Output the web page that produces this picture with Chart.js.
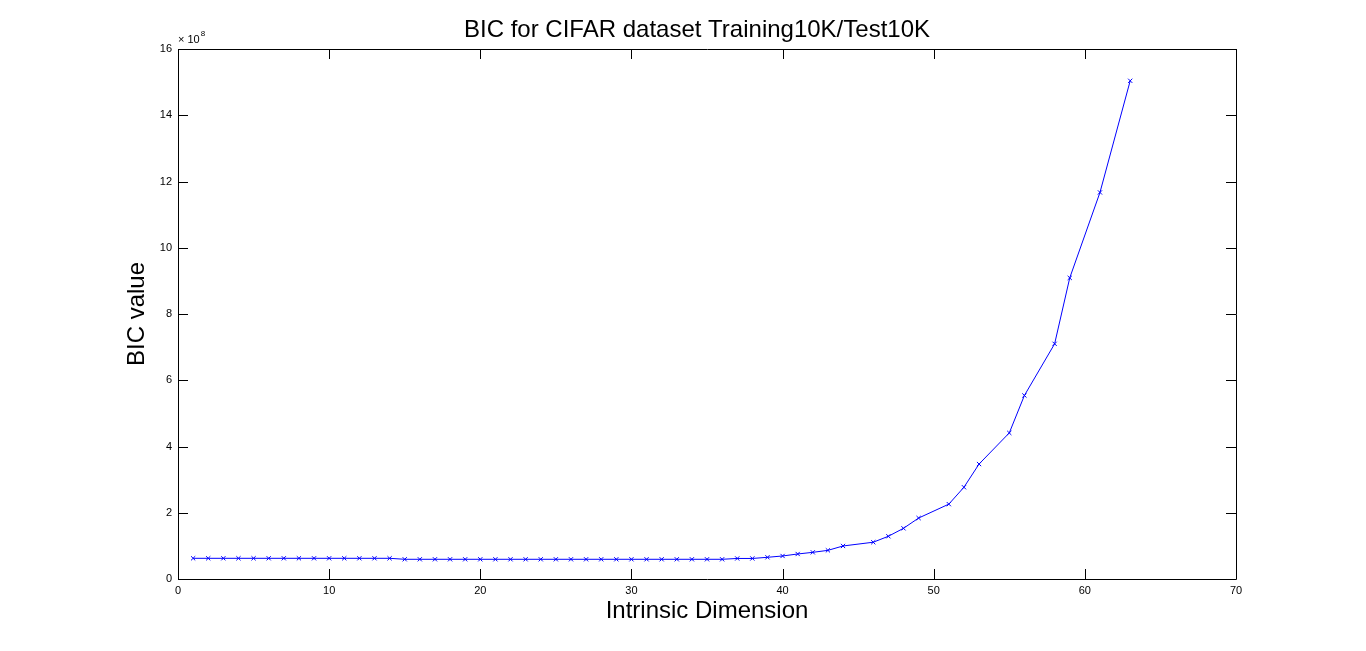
<!DOCTYPE html>
<html>
<head>
<meta charset="utf-8">
<script src="https://cdn.jsdelivr.net/npm/chart.js@4.4.0/dist/chart.umd.min.js"></script>
<style>
  html, body { margin: 0; padding: 0; background: #ffffff; }
  #wrap { width: 1366px; height: 651px; position: relative; }
</style>
</head>
<body>
<div id="wrap"><canvas id="c" width="1366" height="651"></canvas></div>
<script>
// ---- data ----
const chartTitle = 'BIC for CIFAR dataset Training10K/Test10K';
const xAxisLabel = 'Intrinsic Dimension';
const yAxisLabel = 'BIC value';
const yExponent = 8; // axis multiplier: x 10^8

const intrinsicDims = [
  1, 2, 3, 4, 5, 6, 7, 8, 9, 10, 11, 12, 13, 14,
  15, 16, 17, 18, 19, 20, 21, 22, 23, 24, 25, 26, 27, 28, 29, 30,
  31, 32, 33, 34, 35, 36, 37, 38, 39, 40, 41, 42, 43, 44,
  46, 47, 48, 49, 51, 52, 53, 55, 56, 58, 59, 61, 63
];
// BIC values in units of 10^8
const bicValues = [
  0.625, 0.625, 0.625, 0.625, 0.625, 0.625, 0.625, 0.625, 0.625, 0.625, 0.625, 0.625, 0.625, 0.625,
  0.595, 0.595, 0.595, 0.595, 0.595, 0.595, 0.595, 0.595, 0.595, 0.595, 0.595, 0.595, 0.595, 0.595, 0.595, 0.595,
  0.595, 0.595, 0.595, 0.595, 0.595, 0.595, 0.62, 0.62, 0.655, 0.695, 0.755, 0.805, 0.865, 0.997,
  1.11, 1.29, 1.53, 1.84, 2.26, 2.77, 3.47, 4.41, 5.54, 7.10, 9.09, 11.67, 15.04
];
const xTicks = [0, 10, 20, 30, 40, 50, 60, 70];
const yTicks = [0, 2, 4, 6, 8, 10, 12, 14, 16];

const points = intrinsicDims.map((d, i) => ({ x: d, y: bicValues[i] }));

const FONT = '"Liberation Sans", Arial, Helvetica, sans-serif';

const matlabBox = {
  id: 'matlabBox',
  afterDraw(chart) {
    const { ctx, chartArea: a, scales } = chart;
    const xs = scales.x, ys = scales.y;
    const tl = 10;
    ctx.save();
    ctx.strokeStyle = '#000';
    ctx.lineWidth = 1;
    ctx.beginPath();
    ctx.rect(Math.round(a.left) + 0.5, Math.round(a.top) + 0.5,
             Math.round(a.right - a.left), Math.round(a.bottom - a.top));
    xTicks.forEach(v => {
      const px = Math.round(xs.getPixelForValue(v)) + 0.5;
      ctx.moveTo(px, a.bottom); ctx.lineTo(px, a.bottom - tl);
      ctx.moveTo(px, a.top); ctx.lineTo(px, a.top + tl);
    });
    yTicks.forEach(v => {
      const py = Math.round(ys.getPixelForValue(v)) + 0.5;
      ctx.moveTo(a.left, py); ctx.lineTo(a.left + tl, py);
      ctx.moveTo(a.right, py); ctx.lineTo(a.right - tl, py);
    });
    ctx.stroke();
    // exponent label
    ctx.fillStyle = '#000';
    ctx.textBaseline = 'alphabetic';
    ctx.textAlign = 'left';
    ctx.font = '11px ' + FONT;
    ctx.fillText('\u00d7 10', a.left, a.top - 6);
    const w = ctx.measureText('\u00d7 10').width;
    ctx.font = '8px ' + FONT;
    ctx.fillText(String(yExponent), a.left + w + 1, a.top - 13);
    // title, centred over the axes
    ctx.font = '24px ' + FONT;
    ctx.textAlign = 'center';
    ctx.fillText(chartTitle, (a.left + a.right) / 2 - 10, a.top - 12);
    ctx.restore();
  }
};

new Chart(document.getElementById('c'), {
  type: 'line',
  data: {
    datasets: [{
      data: points,
      borderColor: '#0000ff',
      backgroundColor: '#0000ff',
      borderWidth: 1,
      pointStyle: 'crossRot',
      pointRadius: 3,
      pointBorderWidth: 1,
      pointBorderColor: '#0000ff',
      tension: 0,
      fill: false
    }]
  },
  plugins: [matlabBox],
  options: {
    responsive: false,
    animation: false,
    devicePixelRatio: 1,
    layout: { padding: { left: 0, right: 130, top: 49, bottom: 0 } },
    plugins: {
      legend: { display: false },
      tooltip: { enabled: false },
      title: { display: false }
    },
    scales: {
      x: {
        type: 'linear',
        min: 0, max: 70,
        afterBuildTicks: s => { s.ticks = xTicks.map(v => ({ value: v })); },
        afterFit: s => { s.height = 72; },
        ticks: { color: '#000', font: { family: FONT, size: 11 }, padding: 5, maxRotation: 0 },
        grid: { display: false, drawTicks: false },
        border: { display: false },
        title: {
          display: true, text: xAxisLabel, color: '#000',
          font: { family: FONT, size: 24 }, padding: { top: 0, bottom: 25 }
        }
      },
      y: {
        type: 'linear',
        min: 0, max: 16,
        afterBuildTicks: s => { s.ticks = yTicks.map(v => ({ value: v })); },
        afterFit: s => { s.width = 178; },
        ticks: { color: '#000', font: { family: FONT, size: 11 }, padding: 6 },
        grid: { display: false, drawTicks: false },
        border: { display: false },
        title: {
          display: true, text: yAxisLabel, color: '#000',
          font: { family: FONT, size: 24 }, padding: { top: 123, bottom: 0 }
        }
      }
    }
  }
});
</script>
</body>
</html>
